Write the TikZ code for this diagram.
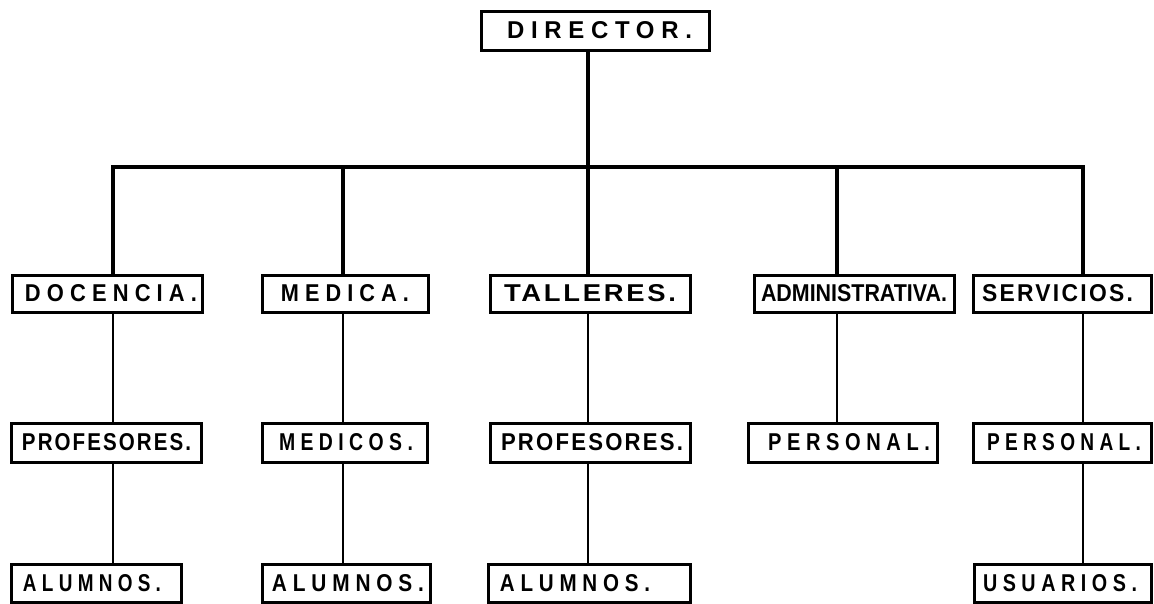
\documentclass[tikz,border=0pt]{standalone}
\usepackage{fontspec}
\usepackage{graphicx}
\newfontfamily\letA[LetterSpace=28]{Liberation Sans}
\newfontfamily\letB[LetterSpace=10]{Liberation Sans}
\newfontfamily\letC[LetterSpace=0]{Liberation Sans}
% #1 font, #2 width, #3 text
\newcommand{\lab}[3]{\resizebox{#2}{17pt}{#1\bfseries #3}}
\tikzset{
  orgbox/.style={draw, line width=3pt, inner sep=0pt, outer sep=0pt, line join=miter},
  thicklink/.style={line width=4pt, line join=miter},
  thinlink/.style={line width=1.5pt}
}
\begin{document}
\begin{tikzpicture}[x=1pt,y=-1pt]
\useasboundingbox (0,0) rectangle (1154,603);
% top
\node[orgbox, minimum width=228pt, minimum height=39pt] (dir) at (595,30.5) {\hspace*{9pt}\lab{\letA}{185pt}{DIRECTOR.}};
% level 1
\node[orgbox, minimum width=190pt, minimum height=37pt] (doc) at (107,293.5) {\hspace*{8pt}\lab{\letA}{172pt}{DOCENCIA.}};
\node[orgbox, minimum width=166pt, minimum height=37pt] (med) at (345,293.5) {\lab{\letA}{128pt}{MEDICA.}};
\node[orgbox, minimum width=200pt, minimum height=37pt] (tal) at (590,293.5) {\lab{\letB}{172pt}{TALLERES.}};
\node[orgbox, minimum width=200pt, minimum height=37pt] (adm) at (854,293.5) {\lab{\letC}{186pt}{ADMINISTRATIVA.}};
\node[orgbox, minimum width=178pt, minimum height=37pt] (ser) at (1062,293.5) {\lab{\letB}{151pt}{SERVICIOS.}\hspace*{9pt}};
% level 2
\node[orgbox, minimum width=190pt, minimum height=39pt] (prof1) at (106.5,442.5) {\lab{\letB}{169pt}{PROFESORES.}};
\node[orgbox, minimum width=165pt, minimum height=39pt] (meds) at (344.5,442.5) {\hspace*{3pt}\lab{\letA}{134pt}{MEDICOS.}};
\node[orgbox, minimum width=200pt, minimum height=39pt] (prof2) at (590,442.5) {\hspace*{4pt}\lab{\letB}{182pt}{PROFESORES.}};
\node[orgbox, minimum width=189pt, minimum height=39pt] (pers1) at (842.5,442.5) {\hspace*{13pt}\lab{\letA}{162pt}{PERSONAL.}};
\node[orgbox, minimum width=178pt, minimum height=39pt] (pers2) at (1062,442.5) {\hspace*{4pt}\lab{\letA}{154pt}{PERSONAL.}};
% level 3
\node[orgbox, minimum width=170pt, minimum height=38pt] (alu1) at (96,583) {\lab{\letA}{138pt}{ALUMNOS.}\hspace*{8pt}};
\node[orgbox, minimum width=168pt, minimum height=38pt] (alu2) at (346,583) {\hspace*{4pt}\lab{\letA}{152pt}{ALUMNOS.}};
\node[orgbox, minimum width=202pt, minimum height=38pt] (alu3) at (589,583) {\lab{\letA}{150pt}{ALUMNOS.}\hspace*{28pt}};
\node[orgbox, minimum width=177pt, minimum height=38pt] (usu) at (1062.5,583) {\lab{\letA}{154pt}{USUARIOS.}\hspace*{5pt}};
% connector points on the bar
\coordinate (c1) at (113,167);
\coordinate (c2) at (343,167);
\coordinate (c3) at (588,167);
\coordinate (c4) at (837,167);
\coordinate (c5) at (1083,167);
% thick connectors
\draw[thicklink] (dir.south -| c3) -- (c3);
\draw[thicklink] (c1 |- doc.north) -- (c1) -- (c5) -- (c5 |- ser.north);
\draw[thicklink] (c2) -- (c2 |- med.north);
\draw[thicklink] (c3) -- (c3 |- tal.north);
\draw[thicklink] (c4) -- (c4 |- adm.north);
% thin connectors
\draw[thinlink] (c1 |- doc.south) -- (c1 |- prof1.north);
\draw[thinlink] (c1 |- prof1.south) -- (c1 |- alu1.north);
\draw[thinlink] (c2 |- med.south) -- (c2 |- meds.north);
\draw[thinlink] (c2 |- meds.south) -- (c2 |- alu2.north);
\draw[thinlink] (c3 |- tal.south) -- (c3 |- prof2.north);
\draw[thinlink] (c3 |- prof2.south) -- (c3 |- alu3.north);
\draw[thinlink] (c4 |- adm.south) -- (c4 |- pers1.north);
\draw[thinlink] (c5 |- ser.south) -- (c5 |- pers2.north);
\draw[thinlink] (c5 |- pers2.south) -- (c5 |- usu.north);
\end{tikzpicture}
\end{document}
